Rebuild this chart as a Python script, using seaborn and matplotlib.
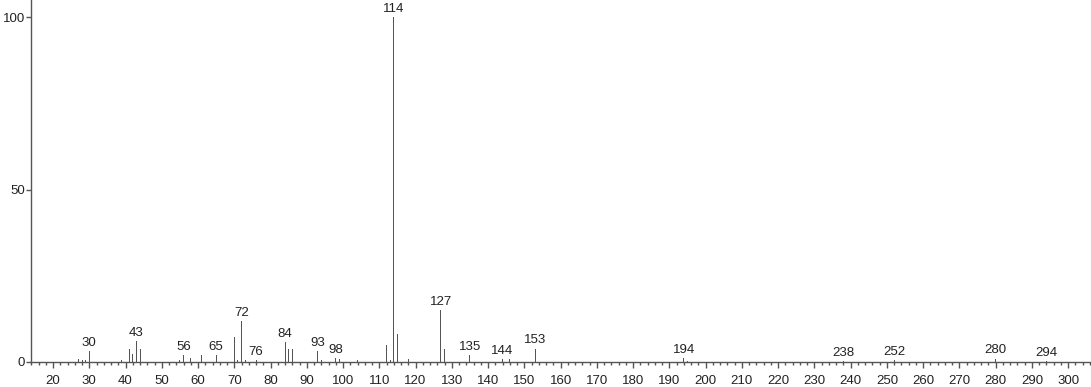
import matplotlib
matplotlib.use("Agg")
import matplotlib.pyplot as plt
from matplotlib.ticker import MultipleLocator
import seaborn as sns
import pandas as pd

# m/z values and relative intensities (%)
mz = [27, 28, 29, 30, 39, 41, 42, 43, 44, 55, 56, 58, 61, 65, 70, 71, 72, 73, 76,
      84, 85, 86, 93, 94, 98, 99, 104, 112, 113, 114, 115, 118, 127, 128, 135,
      144, 146, 153, 194, 195, 238, 252, 280, 294]
intensity = [1.0, 0.6, 0.5, 3.1, 0.7, 3.9, 2.2, 6.0, 3.9, 0.7, 2.1, 1.2, 2.1, 2.1,
             7.2, 0.7, 12.0, 0.5, 0.7, 5.9, 3.9, 3.9, 3.1, 0.7, 1.2, 0.9, 0.5, 5.0,
             0.7, 100.0, 8.2, 0.9, 15.2, 3.9, 2.1, 0.9, 0.9, 3.9, 1.2, 0.4, 0.3,
             0.5, 1.0, 0.3]
labelled = [30, 43, 56, 65, 72, 76, 84, 93, 98, 114, 127, 135, 144, 153, 194,
            238, 252, 280, 294]
y_ticks = [0, 50, 100]

sns.set_style("ticks")
plt.rcParams["font.family"] = ["Liberation Sans", "DejaVu Sans"]

df = pd.DataFrame({"mz": mz, "intensity": intensity})

fig = plt.figure(figsize=(10.91, 3.87), dpi=100)
ax = fig.add_axes([31 / 1091, 25 / 387, 1060 / 1091, 362 / 387])

line_col = "#555555"
sns.barplot(data=df, x="mz", y="intensity", native_scale=True, width=0.276,
            color=line_col, linewidth=0, errorbar=None, ax=ax, saturation=1)
for p in ax.patches:
    p.set_snap(True)

lookup = dict(zip(mz, intensity))
for m in labelled:
    ax.annotate(str(m), (m, lookup[m]), xytext=(0, 1.5), textcoords="offset points",
                ha="center", va="bottom", fontsize=9.5, color="#222222")

ax.set_xlim(13.93, 306.3)
ax.set_ylim(0, 105)
ax.xaxis.set_major_locator(MultipleLocator(10))
ax.xaxis.set_minor_locator(MultipleLocator(2))
ax.set_xticks(list(range(20, 301, 10)))
ax.set_yticks(y_ticks)
ax.set_xlabel("")
ax.set_ylabel("")

for s in ["top", "right"]:
    ax.spines[s].set_visible(False)
for s in ["left", "bottom"]:
    ax.spines[s].set_color(line_col)
    ax.spines[s].set_linewidth(1.0)

ax.tick_params(axis="x", which="major", length=4.5, width=1, color=line_col,
               labelsize=9.5, labelcolor="#222222", pad=4.5, direction="out")
ax.tick_params(axis="x", which="minor", length=2.2, width=1, color=line_col,
               direction="out")
ax.tick_params(axis="y", which="major", length=3.5, width=1, color=line_col,
               labelsize=9.5, labelcolor="#222222", pad=1, direction="out")

fig.savefig("out.png", dpi=100)
